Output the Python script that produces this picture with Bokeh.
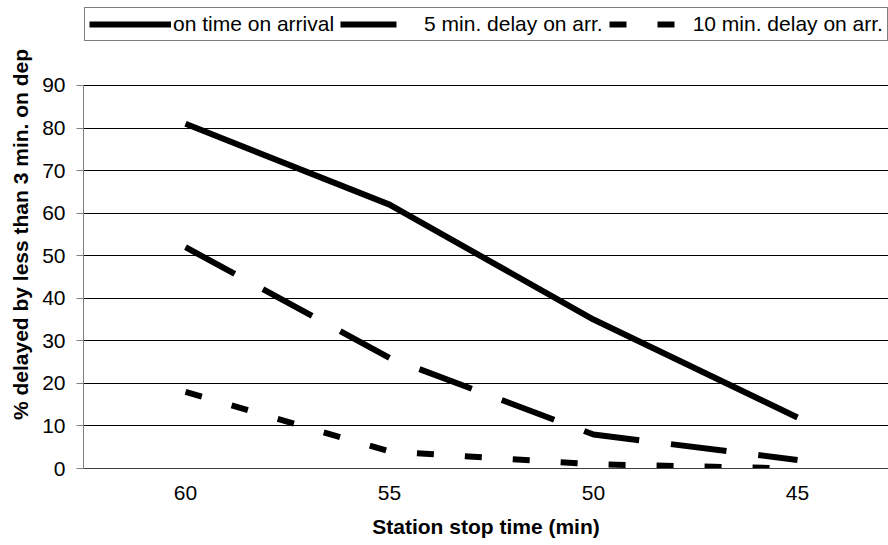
from bokeh.plotting import figure
from bokeh.models import Range1d, FixedTicker, Legend, LegendItem
from bokeh.embed import file_html
from bokeh.resources import INLINE

# Data
categories = ["60", "55", "50", "45"]
on_time = [81, 62, 35, 12]
delay_5 = [52, 26, 8, 2]
delay_10 = [18, 4, 1, 0]
y_ticks = [0, 10, 20, 30, 40, 50, 60, 70, 80, 90]
series_names = ["on time on arrival", "5 min. delay on arr.", "10 min. delay on arr."]

FONT = "Liberation Sans"
xs = list(range(len(categories)))

# frame spans the whole height above the x axis so the legend (drawn inside the frame) is visible;
# the value axis itself is bounded to 0..90
p = figure(width=888, height=545, output_backend="svg", toolbar_location=None,
           x_range=Range1d(-0.5, 3.446), y_range=Range1d(0, 109.97),
           min_border_left=83, min_border_right=0, min_border_top=0, min_border_bottom=77,
           background_fill_color="white", border_fill_color="white")
p.outline_line_color = None

r1 = p.line(xs, on_time, line_color="black", line_width=6)
r2 = p.line(xs, delay_5, line_color="black", line_width=6, line_dash="56 32")
r3 = p.line(xs, delay_10, line_color="black", line_width=6, line_dash="17 31")

# X axis
p.xaxis.ticker = FixedTicker(ticks=xs)
p.xaxis.major_label_overrides = {i: c for i, c in enumerate(categories)}
p.xaxis.major_tick_out = 0
p.xaxis.major_tick_in = 0
p.xaxis.minor_tick_out = 0
p.xaxis.minor_tick_in = 0
p.xaxis.axis_line_color = "#404040"
p.xaxis.major_label_standoff = 17
p.xaxis.major_label_text_font = FONT
p.xaxis.major_label_text_font_size = "21px"
p.xaxis.major_label_text_color = "black"
p.xaxis.axis_label = "Station stop time (min)"
p.xaxis.axis_label_text_font = FONT
p.xaxis.axis_label_text_font_size = "21px"
p.xaxis.axis_label_text_font_style = "bold"
p.xaxis.axis_label_text_color = "black"
p.xaxis.axis_label_standoff = 12

# Y axis
p.yaxis.bounds = (y_ticks[0], y_ticks[-1])
p.yaxis.ticker = FixedTicker(ticks=y_ticks)
p.yaxis.major_tick_out = 7
p.yaxis.major_tick_in = 0
p.yaxis.minor_tick_out = 0
p.yaxis.minor_tick_in = 0
p.yaxis.axis_line_color = "#808080"
p.yaxis.major_tick_line_color = "#808080"
p.yaxis.major_label_standoff = 11
p.yaxis.major_label_text_font = FONT
p.yaxis.major_label_text_font_size = "21px"
p.yaxis.major_label_text_color = "black"
p.yaxis.axis_label = "% delayed by less than 3 min. on dep"
p.yaxis.axis_label_text_font = FONT
p.yaxis.axis_label_text_font_size = "21px"
p.yaxis.axis_label_text_font_style = "bold"
p.yaxis.axis_label_text_color = "black"
p.yaxis.axis_label_standoff = 7

p.xgrid.grid_line_color = None
p.ygrid.ticker = FixedTicker(ticks=y_ticks)
p.ygrid.grid_line_color = "black"
p.ygrid.grid_line_width = 1

legend = Legend(items=[LegendItem(label=series_names[0], renderers=[r1]),
                       LegendItem(label=series_names[1], renderers=[r2]),
                       LegendItem(label=series_names[2], renderers=[r3])],
                orientation="horizontal", location=(1, 427),
                glyph_width=82, glyph_height=20, label_standoff=2, spacing=6,
                padding=4, margin=0,
                label_text_font=FONT, label_text_font_size="21px",
                label_text_color="black",
                border_line_color="black", border_line_width=1,
                background_fill_color="white", background_fill_alpha=1)
p.add_layout(legend)

open("out.html", "w").write(file_html(p, INLINE))
